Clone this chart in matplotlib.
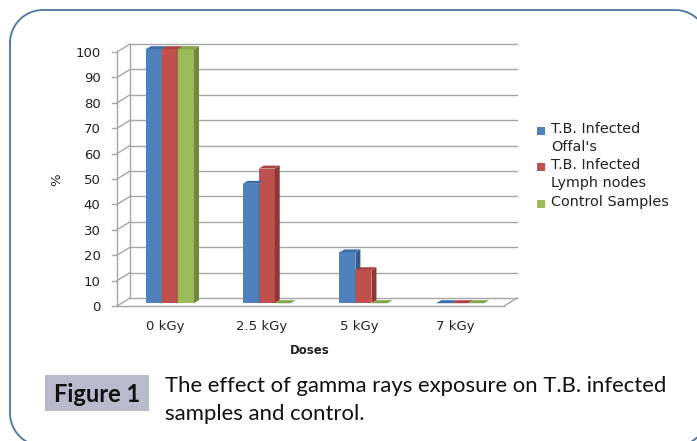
import matplotlib
matplotlib.use("Agg")
import matplotlib.pyplot as plt
import numpy as np
from matplotlib.patches import Polygon, Rectangle

# data
doses = ["0 kGy", "2.5 kGy", "5 kGy", "7 kGy"]
offals = [100, 47, 20, 0]
lymph = [100, 53, 13, 0]
control = [100, 0, 0, 0]
series_names = ["T.B. Infected\nOffal's", "T.B. Infected\nLymph nodes", "Control Samples"]
yticks = list(range(0, 101, 10))

colors = ["#4f81bd", "#c0504d", "#9bbb59"]
side_colors = ["#385d8a", "#8c3836", "#71893f"]
top_colors = ["#3f6ea8", "#a94542", "#84a34b"]

W, H = 697, 441
fig = plt.figure(figsize=(W / 100, H / 100), dpi=100)

# plot area: front axis x=117..503, y=306..51; back wall shifted 13px right, 8px up
ax = fig.add_axes([117 / W, (H - 306) / H, 400 / W, 262 / H])
ax.set_xlim(-0.5, 3.5 + 13 / 96.5)
ax.set_ylim(0, 100 + 8 / 2.55)
ax.axis("off")

dx = 13 / 96.5
dy = 8 / 2.55
grid = "#a6a6a6"
x0, x1 = -0.5, 3.5

for v in yticks:
    ax.plot([x0 + dx, x1 + dx], [v + dy, v + dy], color=grid, lw=1, clip_on=False)
    ax.plot([x0, x0 + dx], [v, v + dy], color=grid, lw=1, clip_on=False)
    ax.plot([x0 - 0.05, x0], [v, v], color=grid, lw=1, clip_on=False)
    ax.text(x0 - 0.17, v - 0.6, str(v), ha="right", va="center", fontsize=9.5, color="#222222")
ax.plot([x0, x0], [0, 100], color=grid, lw=1, clip_on=False)
ax.plot([x0 + dx, x0 + dx], [dy, 100 + dy], color=grid, lw=1, clip_on=False)
ax.plot([x0, x1], [0, 0], color=grid, lw=1, clip_on=False)
ax.plot([x1, x1 + dx], [0, dy], color=grid, lw=1, clip_on=False)

# bars with a little fake depth, like the excel 3d columns (sitting mid-depth)
x = np.arange(len(doses))
w = 16 / 96.5
bdx = 5 / 96.5
bdy = 3 / 2.55
sx = dx * 0.35
sy = dy * 0.35
for i, vals in enumerate([offals, lymph, control]):
    xs = x + (i - 1) * w + sx
    ax.bar(xs, vals, width=w, bottom=sy, color=colors[i], linewidth=0, zorder=3)
    for xc, v in zip(xs, vals):
        l, r = xc - w / 2, xc + w / 2
        b, t = sy, sy + v
        side = Polygon([(r, b), (r + bdx, b + bdy), (r + bdx, t + bdy), (r, t)],
                       closed=True, facecolor=side_colors[i], edgecolor="none", zorder=3)
        top = Polygon([(l, t), (l + bdx, t + bdy), (r + bdx, t + bdy), (r, t)],
                      closed=True, facecolor=top_colors[i], edgecolor="none", zorder=4)
        ax.add_patch(side)
        ax.add_patch(top)

for xc, lab in zip(x, doses):
    ax.text(xc, -8, lab, ha="center", va="center", fontsize=9.5, color="#222222")

# overlay in pixel coordinates for frame, titles, legend and caption
pax = fig.add_axes([0, 0, 1, 1])
pax.set_xlim(0, W)
pax.set_ylim(H, 0)
pax.axis("off")
pax.patch.set_visible(False)

# rounded frame, right and bottom edges run off the picture
fl, ft, fr, fb, rad = 10, 10, 708, 446, 33
arc = np.linspace(0, np.pi / 2, 30)
fx = np.concatenate([fl + rad - rad * np.cos(arc), fr - rad + rad * np.sin(arc),
                     fr - rad + rad * np.cos(arc), fl + rad - rad * np.sin(arc), [fl]])
fy = np.concatenate([ft + rad - rad * np.sin(arc), ft + rad - rad * np.cos(arc),
                     fb - rad + rad * np.sin(arc), fb - rad + rad * np.cos(arc), [ft + rad]])
pax.plot(fx, fy, color="#4a74a6", lw=1.3, clip_on=False)

pax.text(310, 350, "Doses", ha="center", va="center", fontsize=8.5,
         fontweight="bold", color="#222222")
pax.text(57, 180, "%", ha="center", va="center", fontsize=9.5,
         rotation=90, color="#222222")

# legend, drawn by hand so the swatch sits on the first line
leg_rows = [131, 167, 204]
for i, (name, yy) in enumerate(zip(series_names, leg_rows)):
    pax.add_patch(Rectangle((537, yy - 4), 8, 8, facecolor=colors[i], edgecolor="none"))
    pax.text(551, yy - 9, name, ha="left", va="top", fontsize=10.4,
             color="#222222", linespacing=1.35)

# caption
pax.add_patch(Rectangle((45, 375), 104, 36, facecolor="#b7bbcc", edgecolor="none"))
pax.text(97, 394, "Figure 1", ha="center", va="center", fontsize=17,
         fontweight="bold", family="Lato", color="#111111")
pax.text(165, 386, "The effect of gamma rays exposure on T.B. infected",
         ha="left", va="center", fontsize=15.9, family="Lato", color="#111111")
pax.text(165, 414, "samples and control.",
         ha="left", va="center", fontsize=15.9, family="Lato", color="#111111")

fig.savefig("out.png", dpi=100)
